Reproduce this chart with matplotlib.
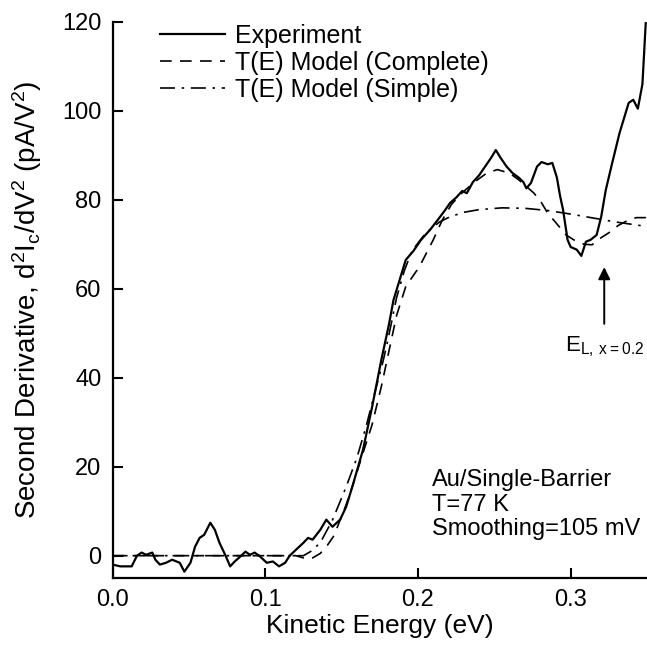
import numpy as np
import matplotlib
matplotlib.use("Agg")
from matplotlib import pyplot as plt

plt.rcParams['font.family'] = ['Liberation Sans', 'DejaVu Sans']
plt.rcParams['mathtext.default'] = 'regular'

# experiment (noisy trace)
exp_x = [0.000, 0.005, 0.0125, 0.016, 0.019, 0.022, 0.026, 0.028, 0.031, 0.035,
         0.039, 0.044, 0.047, 0.051, 0.054, 0.057, 0.060, 0.064, 0.067, 0.070,
         0.074, 0.077, 0.080, 0.083, 0.087, 0.090, 0.093, 0.096, 0.101, 0.105,
         0.109, 0.113, 0.116, 0.120, 0.125, 0.128, 0.131, 0.136, 0.140, 0.144,
         0.149, 0.153, 0.157, 0.164, 0.170, 0.176, 0.181, 0.184, 0.188, 0.192,
         0.197, 0.202, 0.208, 0.213, 0.218, 0.221, 0.225, 0.229, 0.232, 0.236,
         0.240, 0.245, 0.248, 0.251, 0.254, 0.258, 0.262, 0.266, 0.269, 0.271,
         0.274, 0.278, 0.281, 0.285, 0.288, 0.291, 0.293, 0.295, 0.298, 0.300,
         0.304, 0.307, 0.310, 0.313, 0.317, 0.320, 0.323, 0.327, 0.332, 0.338,
         0.341, 0.344, 0.347, 0.350]
exp_y = [-2.0, -2.4, -2.4, 0.0, 0.7, 0.2, 0.7, -0.9, -2.0, -1.6,
         -0.9, -1.6, -3.6, -1.6, 2.0, 4.0, 4.7, 7.4, 5.8, 2.9,
         0.0, -2.4, -1.3, -0.4, 0.9, 0.2, 0.7, 0.0, -1.6, -1.3,
         -2.4, -1.6, 0.0, 1.3, 2.9, 4.0, 3.6, 5.8, 8.1, 6.5,
         8.1, 11.0, 15.5, 23.8, 33.5, 44.0, 52.0, 57.5, 62.0, 66.5,
         68.5, 71.0, 73.3, 75.5, 77.8, 79.3, 80.5, 82.0, 81.5, 84.0,
         85.5, 88.0, 89.5, 91.2, 89.5, 87.5, 86.0, 85.0, 84.0, 82.6,
         83.8, 87.5, 88.5, 88.0, 88.3, 85.0, 81.0, 77.8, 71.0, 69.4,
         68.8, 67.4, 70.6, 71.0, 72.1, 76.2, 82.2, 88.0, 95.0, 101.8,
         102.5, 100.5, 106.0, 125.0]

# T(E) model, complete
full_x = [0.000, 0.120, 0.127, 0.131, 0.136, 0.140, 0.145, 0.149, 0.153, 0.157,
          0.163, 0.170, 0.176, 0.181, 0.186, 0.192, 0.201, 0.210, 0.216, 0.222,
          0.229, 0.237, 0.245, 0.252, 0.260, 0.266, 0.271, 0.276, 0.281, 0.285,
          0.290, 0.297, 0.303, 0.309, 0.314, 0.320, 0.325, 0.331, 0.338, 0.343,
          0.350]
full_y = [0.0, 0.0, -0.7, -0.5, 0.5, 2.0, 4.5, 8.0, 11.5, 15.5,
          22.0, 29.5, 38.0, 46.0, 54.0, 60.5, 65.0, 71.0, 75.5, 79.0,
          81.6, 84.0, 86.0, 86.8, 86.0, 84.5, 83.0, 81.5, 79.3, 77.0,
          75.0, 72.1, 70.8, 70.0, 69.9, 71.5, 72.6, 74.2, 75.5, 76.0,
          76.0]

# T(E) model, simple
simp_x = [0.000, 0.125, 0.130, 0.136, 0.144, 0.153, 0.160, 0.166, 0.172, 0.177,
          0.180, 0.186, 0.191, 0.196, 0.205, 0.214, 0.221, 0.230, 0.240, 0.255,
          0.270, 0.285, 0.300, 0.315, 0.330, 0.350]
simp_y = [0.0, 0.0, 1.0, 2.9, 8.0, 15.5, 22.0, 29.0, 37.0, 43.5,
          48.0, 58.0, 64.0, 68.5, 72.5, 75.0, 76.2, 77.2, 77.8, 78.2,
          78.1, 77.6, 76.8, 75.9, 75.0, 74.0]

x_ticks = [0.0, 0.1, 0.2, 0.3]
y_ticks = [0, 20, 40, 60, 80, 100, 120]

fs = 17

fig = plt.figure(figsize=(6.47, 6.45), dpi=100)
ax = fig.add_axes([0.174, 0.104, 0.826, 0.862])

ax.plot(exp_x, exp_y, color='black', lw=1.6, label='Experiment')
ax.plot(full_x, full_y, color='black', lw=1.2, dashes=(7, 5), label='T(E) Model (Complete)')
ax.plot(simp_x, simp_y, color='black', lw=1.2, dashes=(9, 4, 1.5, 4), label='T(E) Model (Simple)')

ax.set_xlim(0, 0.35)
ax.set_ylim(-5, 120)
ax.set_xticks(x_ticks)
ax.set_xticklabels([f"{t:.1f}" for t in x_ticks])
ax.set_yticks(y_ticks)

for s in ['top', 'right']:
    ax.spines[s].set_visible(False)
for s in ['left', 'bottom']:
    ax.spines[s].set_linewidth(1.6)
ax.tick_params(direction='in', length=7, width=1.5, labelsize=fs, pad=8)

ax.set_xlabel('Kinetic Energy (eV)', fontsize=19, labelpad=2)
ax.set_ylabel('Second Derivative, d$^2$I$_c$/dV$^2$ (pA/V$^2$)', fontsize=20, labelpad=13)

ax.legend(loc='upper left', bbox_to_anchor=(0.07, 1.015), frameon=False, fontsize=18,
          handlelength=2.6, handletextpad=0.4, labelspacing=0.12, borderaxespad=0)

ax.text(0.209, 11.5, 'Au/Single-Barrier\nT=77 K\nSmoothing=105 mV', fontsize=fs,
        va='center', ha='left', linespacing=1.15)

ax.annotate('', xy=(0.322, 65.5), xytext=(0.322, 51.5),
            arrowprops=dict(arrowstyle='-|>', color='black', lw=1.4, mutation_scale=18))
ax.text(0.296, 47.0, 'E$_{L,\\,x=0.2}$', fontsize=16, va='center', ha='left')

fig.savefig('out.png', dpi=100)
